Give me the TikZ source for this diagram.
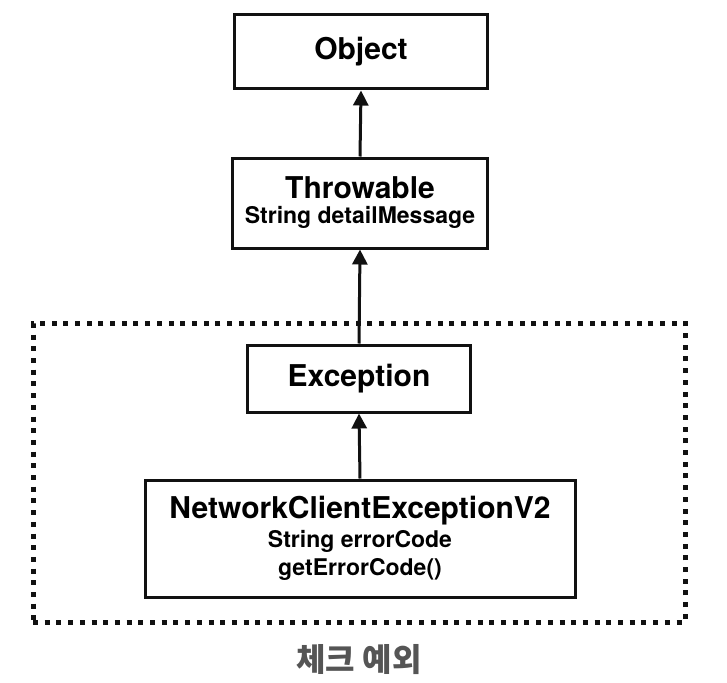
\documentclass[tikz,border=0pt]{standalone}
\usepackage{fontspec}
\setmainfont{TeX Gyre Heros}
\newfontfamily\krfont{Noto Sans CJK KR}
\usetikzlibrary{arrows.meta,positioning}
\definecolor{ink}{HTML}{111111}
\definecolor{cap}{HTML}{555555}
\newcommand{\mainf}{\fontsize{30}{32}\selectfont\bfseries}
\newcommand{\subf}{\fontsize{23}{24}\selectfont\bfseries}
\tikzset{
  cls/.style={draw=ink,line width=3pt,fill=white,align=center,inner sep=4pt,font=\mainf},
  ar/.style={-{Triangle[width=15pt,length=15pt]},line width=3pt,draw=ink},
  grp/.style={draw=ink,line width=5pt,dash pattern=on 5pt off 6.7pt,minimum width=652pt,minimum height=299pt},
}

\begin{document}
\begin{tikzpicture}[x=1pt,y=-1pt]
\useasboundingbox (0,0) rectangle (727,682);
% checked group frame
\node[grp] (chk) at (359,472.5) {};
\node[font=\krfont\bfseries\fontsize{32}{34}\selectfont,text=cap] (chklbl) at (359,660) {체크 예외};
% class boxes
\node[cls,minimum width=253pt,minimum height=74pt] (obj) at (361,52) {Object};
\node[cls,minimum width=255pt,minimum height=90pt] (thr) at (360,203) {Throwable\\[-7pt]{\subf String detailMessage}};
\node[cls,minimum width=223pt,minimum height=67pt] (exc) at (359,378.5) {Exception};
\node[cls,minimum width=430pt,minimum height=117pt] (nce) at (360,538.5)
  {NetworkClientExceptionV2\\[-3pt]{\subf String errorCode}\\[-4pt]{\subf getErrorCode()}};
% inheritance arrows
\draw[ar] (thr.north) -- (obj.south);
\draw[ar] (exc.north) -- (thr.south);
\draw[ar] (nce.north) -- (exc.south);
\end{tikzpicture}
\end{document}
